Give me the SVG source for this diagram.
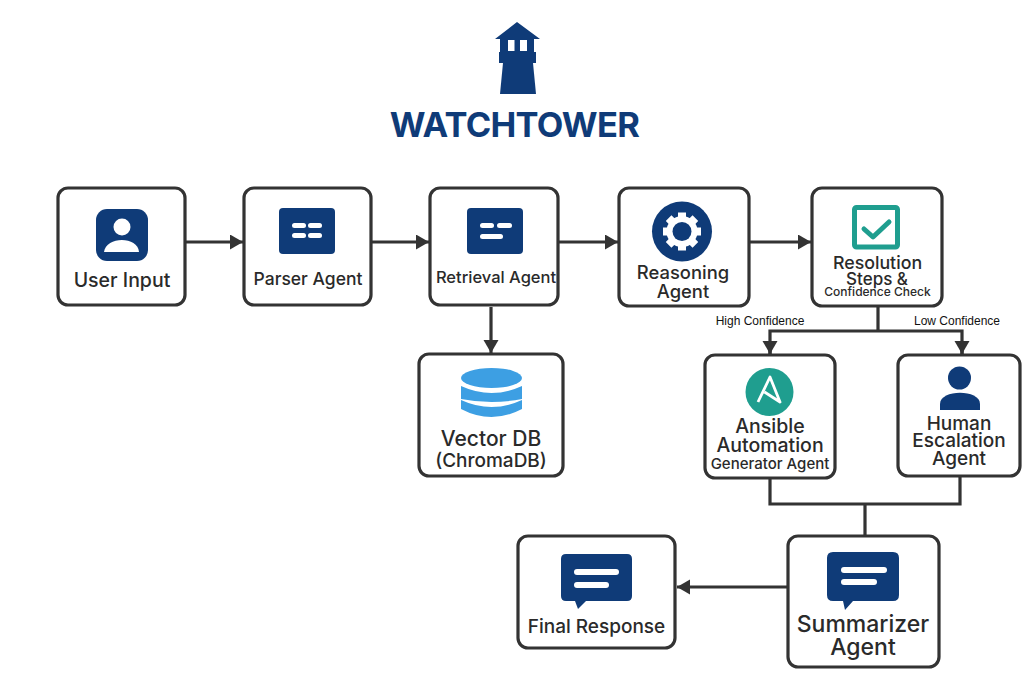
<svg xmlns="http://www.w3.org/2000/svg" width="1036" height="691" viewBox="0 0 1036 691">
<style>
.box{fill:#fff;stroke:#333;stroke-width:3.2}
.c{fill:none;stroke:#333;stroke-width:3.2}
.t{font-family:Inter,"Liberation Sans",sans-serif;fill:#2a2a2a;text-anchor:middle;font-weight:500}
.navy{fill:#0f3b78}
.teal{fill:#1f9e8f}
.blue{fill:#3d9fe3}
.w{fill:#fff}
.lab{font-family:"Liberation Sans",Arial,sans-serif;font-size:12px;fill:#111;text-anchor:middle}
</style>
<defs>
<marker id="a" markerUnits="userSpaceOnUse" markerWidth="14" markerHeight="16" refX="13" refY="7.5" orient="auto"><path d="M0 0L13 7.5L0 15Z" fill="#333"/></marker>
</defs>
<rect width="1036" height="691" fill="#fff"/>
<g id="logo">
<path class="navy" d="M517 22L540 39H534V52H500V39H495Z"/>
<rect class="w" x="508" y="40" width="6.500" height="11"/><rect class="w" x="520" y="40" width="7" height="11"/>
<rect class="navy" x="499" y="52" width="37" height="11"/>
<path class="navy" d="M503 63H533L536 94H500Z"/>
<text x="514.500" y="137" text-anchor="middle" font-family="Inter,'Liberation Sans',sans-serif" font-weight="700" font-size="34.500" letter-spacing="-0.700" fill="#0f3b78">WATCHTOWER</text>
</g>
<g id="connectors">
<path class="c" d="M186 242H243" marker-end="url(#a)"/>
<path class="c" d="M372 242H429" marker-end="url(#a)"/>
<path class="c" d="M559 242H618" marker-end="url(#a)"/>
<path class="c" d="M750 242H811" marker-end="url(#a)"/>
<path class="c" d="M491 307V353" marker-end="url(#a)"/>
<path class="c" d="M878 307V331M770 354V331H962V354"/>
<path class="c" d="M770 342V354" marker-end="url(#a)"/>
<path class="c" d="M962 342V354" marker-end="url(#a)"/>
<path class="c" d="M770 479V504H960V477M865 504V535"/>
<path class="c" d="M787 587H677" marker-end="url(#a)"/>
<text class="lab" x="760" y="325">High Confidence</text>
<text class="lab" x="957" y="325">Low Confidence</text>
</g>
<g id="user-input">
<rect class="box" x="58" y="188" width="127" height="117" rx="10"/>
<rect class="navy" x="96" y="209" width="52" height="52" rx="11"/>
<circle class="w" cx="122" cy="227" r="8.500"/>
<path class="w" d="M104 252C106 236 138 236 139 252Z"/>
<text class="t" x="122" y="287" font-size="19.500">User Input</text>
</g>
<g id="parser-agent">
<rect class="box" x="244" y="188" width="127" height="117" rx="10"/>
<rect class="navy" x="279" y="208" width="56" height="46" rx="4"/>
<rect class="w" x="292" y="223" width="14" height="5" rx="2.500"/><rect class="w" x="308" y="223" width="14" height="5" rx="2.500"/>
<rect class="w" x="292" y="233" width="14" height="5" rx="2.500"/><rect class="w" x="308" y="233" width="14" height="5" rx="2.500"/>
<text class="t" x="308" y="285" font-size="17.500">Parser Agent</text>
</g>
<g id="retrieval-agent">
<rect class="box" x="430" y="188" width="128" height="117" rx="10"/>
<rect class="navy" x="467" y="208" width="56" height="46" rx="4"/>
<rect class="w" x="480" y="223" width="14" height="5" rx="2.500"/><rect class="w" x="497" y="223" width="15" height="5" rx="2.500"/>
<rect class="w" x="480" y="234" width="23" height="5" rx="2.500"/>
<text class="t" x="496" y="283" font-size="16.500">Retrieval Agent</text>
</g>
<g id="reasoning-agent">
<rect class="box" x="619" y="188" width="130" height="118" rx="10"/>
<circle class="navy" cx="682" cy="231.500" r="30"/>
<circle class="w" cx="682" cy="231.500" r="15.500"/>
<path stroke="#fff" stroke-width="8" fill="none" d="M682 212.500V250.500M663 231.500H701M668.600 218.100L695.400 244.900M695.400 218.100L668.600 244.900"/>
<circle class="navy" cx="682" cy="231.500" r="9.500"/>
<text class="t" x="683" y="279" font-size="18.400">Reasoning</text>
<text class="t" x="683" y="298" font-size="18.400">Agent</text>
</g>
<g id="resolution-steps">
<rect class="box" x="812" y="188" width="130" height="118" rx="10"/>
<rect x="854.500" y="207.500" width="43" height="39.500" rx="2" fill="#fff" stroke="#1f9e8f" stroke-width="5"/>
<path d="M864 229L873 237L889 222" fill="none" stroke="#1f9e8f" stroke-width="5" stroke-linecap="round" stroke-linejoin="round"/>
<text class="t" x="877.500" y="269" font-size="17.800">Resolution</text>
<text class="t" x="877" y="285" font-size="17">Steps &amp;</text>
<text class="t" x="877.500" y="296" font-size="12">Confidence Check</text>
</g>
<g id="vector-db">
<rect class="box" x="419" y="354" width="144" height="122" rx="10"/>
<path class="blue" d="M461 400Q491.500 414 522 400V409Q491.500 425 461 409Z"/>
<path class="blue" d="M461 386Q491.500 400 522 386V399Q491.500 405 461 399Z"/>
<ellipse class="blue" cx="491.500" cy="378" rx="30.500" ry="10"/>
<text class="t" x="491" y="446" font-size="21">Vector DB</text>
<text class="t" x="491" y="467" font-size="19">(ChromaDB)</text>
</g>
<g id="ansible-agent">
<rect class="box" x="705" y="355" width="130" height="123" rx="10"/>
<circle class="teal" cx="769.500" cy="392" r="24"/>
<path d="M758 402L770 377L780 402L764.500 392" fill="none" stroke="#fff" stroke-width="2.800" stroke-linejoin="round"/>
<text class="t" x="770" y="433" font-size="19.500">Ansible</text>
<text class="t" x="770" y="452" font-size="19.500">Automation</text>
<text class="t" x="770" y="469" font-size="15">Generator Agent</text>
</g>
<g id="human-escalation">
<rect class="box" x="898" y="355" width="122" height="121" rx="10"/>
<circle class="navy" cx="959.500" cy="378" r="11.500"/>
<path class="navy" d="M940 410V404C940 389 980 389 980 404V410Z"/>
<text class="t" x="959" y="430" font-size="19">Human</text>
<text class="t" x="959" y="447" font-size="19">Escalation</text>
<text class="t" x="959" y="465" font-size="19">Agent</text>
</g>
<g id="summarizer-agent">
<rect class="box" x="788" y="536" width="151" height="131" rx="10"/>
<path class="navy" d="M833 552H893Q899 552 899 558V595Q899 601 893 601H853L845 610L843 601H833Q827 601 827 595V558Q827 552 833 552Z"/>
<rect class="w" x="841" y="567" width="46" height="6" rx="3"/><rect class="w" x="841" y="579" width="36" height="6" rx="3"/>
<text class="t" x="863" y="632" font-size="23">Summarizer</text>
<text class="t" x="863" y="655" font-size="23">Agent</text>
</g>
<g id="final-response">
<rect class="box" x="518" y="536" width="157" height="112" rx="10"/>
<path class="navy" d="M566 554H627Q632 554 632 559V596Q632 601 627 601H586L578 609L575 601H566Q561 601 561 596V559Q561 554 566 554Z"/>
<rect class="w" x="574" y="569" width="45" height="6" rx="3"/><rect class="w" x="574" y="582" width="35" height="6" rx="3"/>
<text class="t" x="596.500" y="633" font-size="19">Final Response</text>
</g>
</svg>
